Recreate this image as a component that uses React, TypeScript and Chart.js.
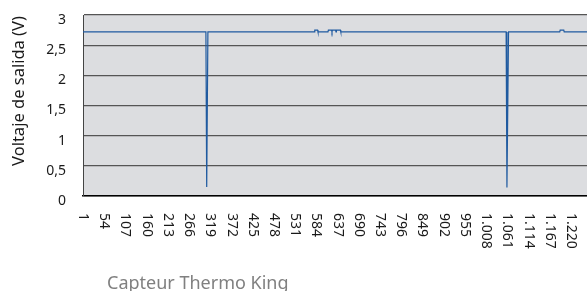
import React, { useEffect, useRef } from "react";
import { Chart, registerables } from "chart.js";

Chart.register(...registerables);

// Sample index (x) and output voltage (y) at each change point of the signal
const sampleIndex = [
  1, 308, 310, 313,
  579, 580, 587, 588,
  613, 614, 622, 623, 624, 632, 633, 634, 644, 645,
  1058, 1060, 1064,
  1192, 1193, 1202, 1203, 1260,
];
const voltage = [
  2.72, 2.72, 0.15, 2.72,
  2.72, 2.75, 2.75, 2.72,
  2.72, 2.75, 2.75, 2.72, 2.75, 2.75, 2.72, 2.75, 2.75, 2.72,
  2.72, 0.14, 2.72,
  2.72, 2.75, 2.75, 2.72, 2.72,
];
const xTickValues = [
  1, 54, 107, 160, 213, 266, 319, 372, 425, 478, 531, 584, 637, 690, 743,
  796, 849, 902, 955, 1008, 1061, 1114, 1167, 1220,
];
const yTickValues = [0, 0.5, 1, 1.5, 2, 2.5, 3];
const yTitle = "Voltaje de salida (V)";
const caption = "Capteur Thermo King";

const fmtThousands = (v: number) =>
  String(Math.round(v)).replace(/\B(?=(\d{3})+(?!\d))/g, ".");
const fmtDecimal = (v: number) => String(v).replace(".", ",");

const plotBg = {
  id: "plotBg",
  beforeDraw(chart: any) {
    const { ctx, chartArea } = chart;
    if (!chartArea) return;
    ctx.save();
    ctx.fillStyle = "#dcdde0";
    ctx.fillRect(chartArea.left, chartArea.top, chartArea.right - chartArea.left, chartArea.bottom - chartArea.top);
    ctx.restore();
  },
};

// x tick labels rotated clockwise (reading top to bottom) and the y title, as in the reference
const textLayer = {
  id: "textLayer",
  afterDraw(chart: any) {
    const { ctx } = chart;
    const xs = chart.scales.x;
    ctx.save();
    ctx.fillStyle = "#1a1a1a";
    ctx.font = "14px 'Noto Sans'";
    ctx.textAlign = "left";
    ctx.textBaseline = "middle";
    const top = xs.top + 17;
    xTickValues.forEach((v) => {
      const px = xs.getPixelForValue(v);
      ctx.save();
      ctx.translate(px, top);
      ctx.rotate(Math.PI / 2);
      ctx.fillText(fmtThousands(v), 0, 0);
      ctx.restore();
    });
    ctx.font = "16.5px 'Noto Sans'";
    ctx.textAlign = "center";
    ctx.translate(19, 91);
    ctx.rotate(-Math.PI / 2);
    ctx.fillText(yTitle, 0, 0);
    ctx.restore();
  },
};

export default function App() {
  const ref = useRef<HTMLCanvasElement>(null);
  useEffect(() => {
    if (!ref.current) return;
    const data = sampleIndex.map((x, i) => ({ x, y: voltage[i] }));
    const chart = new Chart(ref.current, {
      type: "line",
      data: {
        datasets: [
          {
            data,
            borderColor: "#1f5aa0",
            borderWidth: 1.2,
            pointRadius: 0,
            tension: 0,
          },
        ],
      },
      plugins: [plotBg, textLayer],
      options: {
        animation: false,
        responsive: false,
        devicePixelRatio: 1,
        layout: { padding: { top: 15, right: 0, bottom: 0, left: 0 } },
        plugins: { legend: { display: false }, tooltip: { enabled: false } },
        scales: {
          x: {
            type: "linear",
            min: 1,
            max: 1260,
            afterBuildTicks: (scale: any) => {
              scale.ticks = xTickValues.map((v) => ({ value: v }));
            },
            afterFit: (scale: any) => {
              scale.height = 95;
              scale.paddingRight = 0;
              scale.paddingLeft = 0;
            },
            grid: { display: false, drawTicks: false },
            border: { display: true, color: "#000", width: 1.5 },
            ticks: { display: false, autoSkip: false },
          },
          y: {
            type: "linear",
            min: 0,
            max: 3,
            afterBuildTicks: (scale: any) => {
              scale.ticks = yTickValues.map((v) => ({ value: v }));
            },
            afterFit: (scale: any) => {
              scale.width = 83;
              scale.paddingTop = 0;
              scale.paddingBottom = 0;
            },
            grid: { color: "#555", lineWidth: 1.2, drawTicks: false },
            border: { display: true, color: "#444", width: 1 },
            title: { display: false },
            ticks: {
              padding: 17,
              labelOffset: 5,
              color: "#1a1a1a",
              font: { family: "Noto Sans", size: 14 },
              callback: (v: any) => fmtDecimal(Number(v)),
            },
          },
        },
      },
    });
    return () => chart.destroy();
  }, []);

  return (
    <div style={{ position: "fixed", left: 0, top: 0, width: 587, height: 291, background: "#fff" }}>
      <canvas ref={ref} width={587} height={291} />
      <div
        style={{
          position: "absolute",
          left: 107,
          top: 271,
          fontFamily: "Noto Sans",
          fontSize: 18,
          lineHeight: "22px",
          color: "#808080",
          whiteSpace: "nowrap",
        }}
      >
        {caption}
      </div>
    </div>
  );
}
